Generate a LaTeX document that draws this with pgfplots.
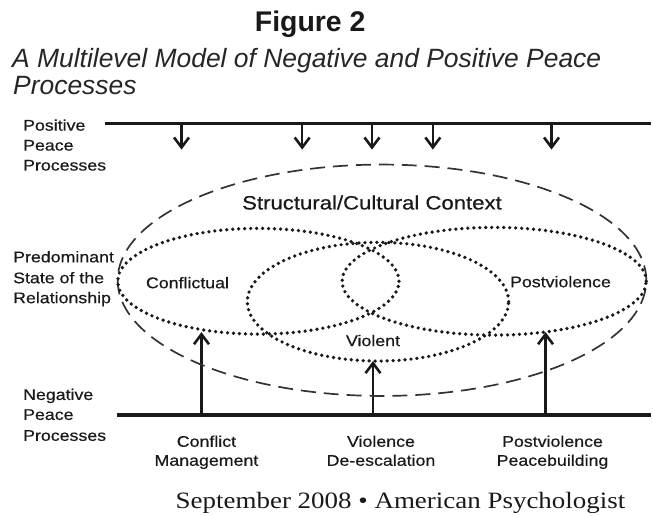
\documentclass[border=0pt]{standalone}
\usepackage{pgfplots}
\pgfplotsset{compat=1.18}
\usetikzlibrary{arrows.meta}
\usepackage{fontspec}
\setmainfont{Liberation Sans}
\newfontfamily\lab[FakeStretch=1.15,FakeBold=0.5]{Liberation Sans}
\newfontfamily\foot[FakeStretch=1.15]{Liberation Serif}
\begin{document}
\begin{tikzpicture}
\begin{axis}[width=653pt,height=517pt,scale only axis,
  xmin=0,xmax=653,ymin=0,ymax=517,y dir=reverse,
  hide axis,clip=false]
\path (axis cs:0,0) rectangle (axis cs:653,517);
% titles
\node[anchor=base,inner sep=0pt,text=black!90] at (axis cs:311,32) {\fontsize{28.5}{30}\selectfont\bfseries Figure 2};
\node[anchor=base west,inner sep=0pt,text=black!85] at (axis cs:12,68) {\fontsize{26.5}{28}\selectfont\itshape A Multilevel Model of Negative and Positive Peace};
\node[anchor=base west,inner sep=0pt,text=black!85] at (axis cs:13,95) {\fontsize{26.5}{28}\selectfont\itshape Processes};
% horizontal lines
\addplot[black!90,line width=3.5pt] coordinates {(105,124) (653,124)};
\addplot[black!90,line width=3.5pt] coordinates {(117,416) (653,416)};
% down arrows
\tikzset{arr/.style={black!90,line width=2.6pt,-{Straight Barb[length=10pt,width=15pt,line width=2.6pt]}}}
\pgfplotsinvokeforeach{182,303,373,434,553}{
  \addplot[arr] coordinates {(#1,124) (#1,150)};
}
% up arrows
\addplot[arr] coordinates {(202,416) (202,333)};
\addplot[arr] coordinates {(374,416) (374,362)};
\addplot[arr] coordinates {(547,416) (547,333)};
% ellipses
\draw[black!80,line width=1.7pt,dash pattern=on 15pt off 8pt] (axis cs:383,281) ellipse [x radius=265pt,y radius=116pt];
\tikzset{dots/.style={black!90,line width=3.7pt,line cap=round,dash pattern=on 0pt off 6pt}}
\draw[dots] (axis cs:259,282) ellipse [x radius=141pt,y radius=53pt];
\draw[dots] (axis cs:495.5,282) ellipse [x radius=152.5pt,y radius=54pt];
\draw[dots] (axis cs:379,302.5) ellipse [x radius=131pt,y radius=59.5pt];
% labels
\tikzset{lb/.style={inner sep=0pt,text=black!90,font=\lab\fontsize{15.5}{17}\selectfont}}
\node[lb,anchor=base west] at (axis cs:23,131) {Positive};
\node[lb,anchor=base west] at (axis cs:23,151) {Peace};
\node[lb,anchor=base west] at (axis cs:23,171) {Processes};
\node[lb,anchor=base west] at (axis cs:13,263) {Predominant};
\node[lb,anchor=base west] at (axis cs:13,284) {State of the};
\node[lb,anchor=base west] at (axis cs:13,304) {Relationship};
\node[lb,anchor=base west] at (axis cs:23,401) {Negative};
\node[lb,anchor=base west] at (axis cs:23,421) {Peace};
\node[lb,anchor=base west] at (axis cs:23,442) {Processes};
\node[lb,anchor=base] at (axis cs:207,448) {Conflict};
\node[lb,anchor=base] at (axis cs:207,467) {Management};
\node[lb,anchor=base] at (axis cs:382,448) {Violence};
\node[lb,anchor=base] at (axis cs:382,467) {De-escalation};
\node[lb,anchor=base] at (axis cs:554,448) {Postviolence};
\node[lb,anchor=base] at (axis cs:554,467) {Peacebuilding};
\node[lb,anchor=base] at (axis cs:188,289) {Conflictual};
\node[lb,anchor=base] at (axis cs:562,288) {Postviolence};
\node[lb,anchor=base] at (axis cs:374,347) {Violent};
\node[inner sep=0pt,text=black!90,anchor=base,font=\lab\fontsize{19.3}{21}\selectfont] at (axis cs:373,210) {Structural/Cultural Context};
\node[inner sep=0pt,anchor=base west,text=black!90,font=\foot\fontsize{23.5}{25}\selectfont] at (axis cs:176,510) {September 2008 • American Psychologist};
\end{axis}
\end{tikzpicture}
\end{document}
